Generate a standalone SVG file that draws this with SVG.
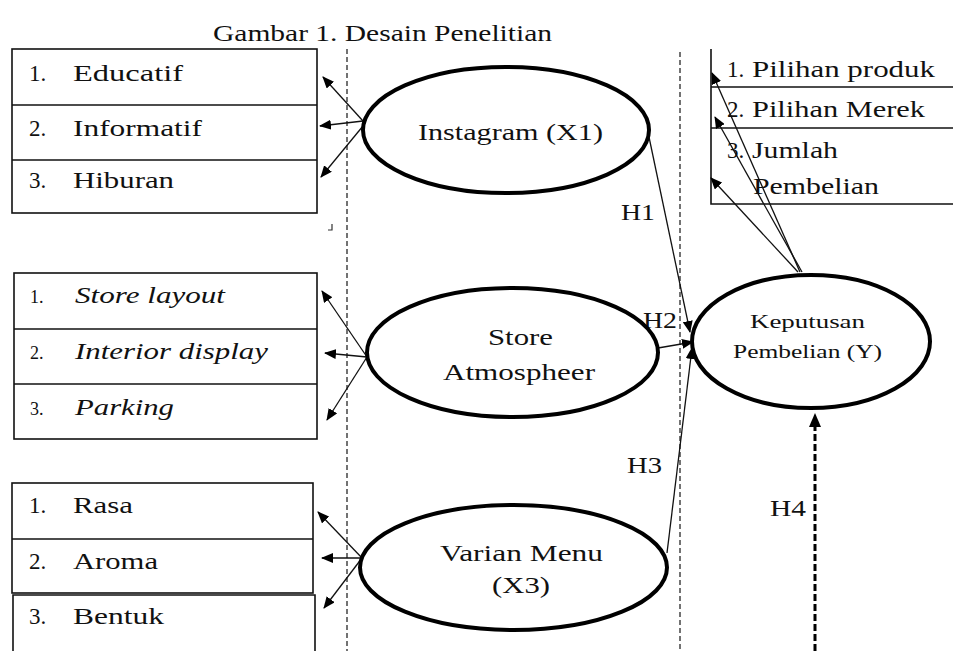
<svg xmlns="http://www.w3.org/2000/svg" width="953" height="651" viewBox="0 0 953 651" font-family="'Liberation Serif', 'Times New Roman', serif">
<defs>
<style>
text{font-family:'Liberation Serif','Times New Roman',serif;fill:#111;}
.t{font-size:23px;}
.n{font-size:23px;}
.it{font-size:23px;font-style:italic;}
.sn{font-size:18px;}
.box{fill:none;stroke:#111;stroke-width:1.6;}
.ell{fill:#fff;stroke:#000;stroke-width:4;}
.ln{stroke:#111;stroke-width:1.3;fill:none;}
.dash{stroke:#444;stroke-width:1.5;stroke-dasharray:5 3;fill:none;}
.dash2{stroke:#000;stroke-width:3;stroke-dasharray:7 3;fill:none;}
</style>
<marker id="ah" markerWidth="12" markerHeight="10" refX="11" refY="5" orient="auto" markerUnits="userSpaceOnUse"><path d="M0,0 L12,5 L0,10 z" fill="#000"/></marker>
</defs>
<rect width="953" height="651" fill="#fff"/>
<text class="t" x="213" y="41" textLength="339" lengthAdjust="spacingAndGlyphs">Gambar 1. Desain Penelitian</text>

<g id="guides">
<line class="dash" x1="347" y1="49" x2="347" y2="651"/>
<line class="dash" x1="680" y1="52" x2="680" y2="651"/>
<path d="M332,224 L332,230 L328,230" stroke="#333" stroke-width="1.2" fill="none"/>
</g>

<g id="box-x1">
<rect class="box" x="12" y="49" width="305" height="164"/>
<line class="box" x1="12" y1="105" x2="317" y2="105"/>
<line class="box" x1="12" y1="160" x2="317" y2="160"/>
<text class="n" x="29" y="81">1.</text><text class="n" x="73" y="81" textLength="110" lengthAdjust="spacingAndGlyphs">Educatif</text>
<text class="n" x="29" y="136">2.</text><text class="n" x="73" y="136" textLength="129" lengthAdjust="spacingAndGlyphs">Informatif</text>
<text class="n" x="29" y="188">3.</text><text class="n" x="73" y="188" textLength="101" lengthAdjust="spacingAndGlyphs">Hiburan</text>
</g>

<g id="box-x2">
<rect class="box" x="14" y="273" width="303" height="166"/>
<line class="box" x1="14" y1="329" x2="317" y2="329"/>
<line class="box" x1="14" y1="384" x2="317" y2="384"/>
<text class="sn" x="30" y="303">1.</text><text class="it" x="75" y="303" textLength="150" lengthAdjust="spacingAndGlyphs">Store layout</text>
<text class="sn" x="30" y="359">2.</text><text class="it" x="75" y="359" textLength="193" lengthAdjust="spacingAndGlyphs">Interior display</text>
<text class="sn" x="30" y="415">3.</text><text class="it" x="75" y="415" textLength="99" lengthAdjust="spacingAndGlyphs">Parking</text>
</g>

<g id="box-x3">
<rect class="box" x="12" y="483" width="301" height="110"/>
<line class="box" x1="12" y1="539" x2="313" y2="539"/>
<path class="box" d="M13,651 L13,595 L315,595 L315,651"/>
<text class="n" x="29" y="513">1.</text><text class="n" x="73" y="513" textLength="60" lengthAdjust="spacingAndGlyphs">Rasa</text>
<text class="n" x="29" y="569">2.</text><text class="n" x="73" y="569" textLength="85" lengthAdjust="spacingAndGlyphs">Aroma</text>
<text class="n" x="29" y="624">3.</text><text class="n" x="73" y="624" textLength="91" lengthAdjust="spacingAndGlyphs">Bentuk</text>
</g>

<g id="box-y">
<path class="box" d="M711,49 L711,204 L953,204"/>
<line class="box" x1="711" y1="87" x2="953" y2="87"/>
<line class="box" x1="711" y1="128" x2="953" y2="128"/>
<text class="n" x="727" y="77">1.</text><text class="n" x="752" y="77" textLength="183" lengthAdjust="spacingAndGlyphs">Pilihan produk</text>
<text class="n" x="727" y="117">2.</text><text class="n" x="752" y="117" textLength="173" lengthAdjust="spacingAndGlyphs">Pilihan Merek</text>
<text class="n" x="727" y="158">3.</text><text class="n" x="752" y="158" textLength="86" lengthAdjust="spacingAndGlyphs">Jumlah</text>
<text class="n" x="753" y="194" textLength="126" lengthAdjust="spacingAndGlyphs">Pembelian</text>
</g>

<g id="connectors">
<line class="ln" x1="363" y1="121" x2="323" y2="77" marker-end="url(#ah)"/>
<line class="ln" x1="363" y1="121" x2="320" y2="126" marker-end="url(#ah)"/>
<line class="ln" x1="363" y1="126" x2="321" y2="177" marker-end="url(#ah)"/>
<line class="ln" x1="367" y1="357" x2="322" y2="291" marker-end="url(#ah)"/>
<line class="ln" x1="367" y1="357" x2="325" y2="353" marker-end="url(#ah)"/>
<line class="ln" x1="367" y1="357" x2="327" y2="420" marker-end="url(#ah)"/>
<line class="ln" x1="362" y1="558" x2="318" y2="512" marker-end="url(#ah)"/>
<line class="ln" x1="362" y1="558" x2="322" y2="558" marker-end="url(#ah)"/>
<line class="ln" x1="362" y1="558" x2="324" y2="608" marker-end="url(#ah)"/>
<line class="ln" x1="649" y1="137" x2="690" y2="332" marker-end="url(#ah)"/>
<line class="ln" x1="658" y1="348" x2="693" y2="342" marker-end="url(#ah)"/>
<line class="ln" x1="667" y1="553" x2="692" y2="348" marker-end="url(#ah)"/>
<line class="ln" x1="800" y1="272" x2="712" y2="73" marker-end="url(#ah)"/>
<line class="ln" x1="802" y1="272" x2="715" y2="117" marker-end="url(#ah)"/>
<line class="ln" x1="798" y1="272" x2="711" y2="178" marker-end="url(#ah)"/>
<line class="dash2" x1="815" y1="651" x2="815" y2="427"/>
<path d="M815,413 L809,427 L821,427 z" fill="#000"/>
<text class="n" x="621" y="220" textLength="34" lengthAdjust="spacingAndGlyphs">H1</text>
<text class="n" x="643" y="328" textLength="34" lengthAdjust="spacingAndGlyphs">H2</text>
<text class="n" x="627" y="473" textLength="35" lengthAdjust="spacingAndGlyphs">H3</text>
<text class="n" x="770" y="516" textLength="36" lengthAdjust="spacingAndGlyphs">H4</text>
</g>

<g id="instagram">
<ellipse class="ell" cx="506" cy="130" rx="143" ry="63"/>
<text class="n" x="418" y="140" textLength="185" lengthAdjust="spacingAndGlyphs">Instagram (X1)</text>
</g>

<g id="store">
<ellipse class="ell" cx="512.5" cy="352.5" rx="145.5" ry="64.5"/>
<text class="n" x="488" y="345" textLength="65" lengthAdjust="spacingAndGlyphs">Store</text>
<text class="n" x="443" y="380" textLength="152" lengthAdjust="spacingAndGlyphs">Atmospheer</text>
</g>

<g id="varian">
<ellipse class="ell" cx="513.5" cy="567.5" rx="153.5" ry="62.5"/>
<text class="n" x="440" y="561" textLength="163" lengthAdjust="spacingAndGlyphs">Varian Menu</text>
<text class="n" x="492" y="593" textLength="58" lengthAdjust="spacingAndGlyphs">(X3)</text>
</g>

<g id="keputusan">
<ellipse class="ell" cx="811" cy="341.5" rx="119" ry="66.5"/>
<text class="n" x="750" y="328" style="font-size:19px" textLength="115" lengthAdjust="spacingAndGlyphs">Keputusan</text>
<text class="n" x="733" y="358" style="font-size:19px" textLength="149" lengthAdjust="spacingAndGlyphs">Pembelian (Y)</text>
</g>
</svg>
